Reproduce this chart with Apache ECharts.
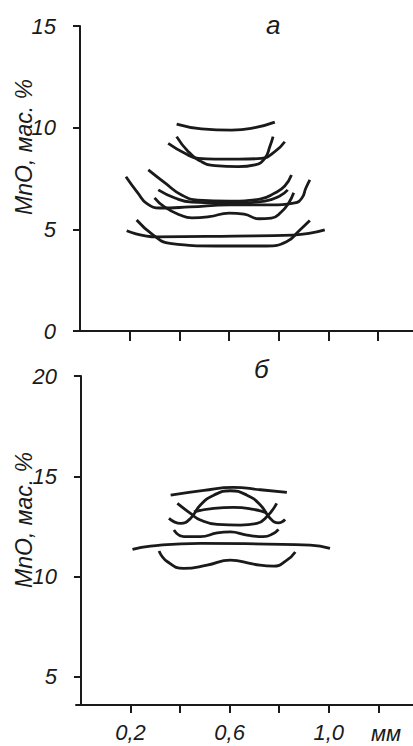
<!DOCTYPE html>
<html>
<head>
<meta charset="utf-8">
<script src="https://cdn.jsdelivr.net/npm/echarts@6/dist/echarts.min.js"></script>
<style>
  html, body { margin: 0; padding: 0; background: #fff; }
  #chart { width: 413px; height: 746px; }
</style>
</head>
<body>
<div id="chart"></div>
<script>
// ось X, мм
const xTicks = [0.2, 0.4, 0.6, 0.8, 1.0, 1.2]
const xLabels = [0.2, 0.6, 1.0]
// ось Y для панелей а и б
const yTicksA = [0, 5, 10, 15]
const yTicksB = [5, 10, 15, 20]

// панель а — профили MnO
const a1 = [[0.389, 10.17], [0.489, 9.94], [0.61, 9.88], [0.704, 10.0], [0.784, 10.27]]
const a2 = [[0.355, 9.23], [0.422, 8.74], [0.476, 8.49], [0.543, 8.45], [0.64, 8.45], [0.73, 8.49], [0.784, 8.82], [0.824, 9.31]]
const a3 = [[0.389, 9.56], [0.436, 8.82], [0.489, 8.33], [0.543, 8.13], [0.637, 8.08], [0.704, 8.17], [0.744, 8.49], [0.764, 9.07], [0.777, 9.56]]
const a4 = [[0.185, 7.59], [0.234, 6.77], [0.268, 6.28], [0.322, 6.05], [0.442, 6.1], [0.603, 6.2], [0.764, 6.2], [0.864, 6.3], [0.893, 6.54], [0.909, 7.03], [0.925, 7.43]]
const a5 = [[0.275, 7.92], [0.342, 7.28], [0.409, 6.69], [0.474, 6.44], [0.603, 6.39], [0.724, 6.49], [0.784, 6.79], [0.824, 7.13], [0.851, 7.67]]
const a6 = [[0.315, 6.94], [0.382, 6.54], [0.45, 6.34], [0.603, 6.29], [0.744, 6.39], [0.804, 6.64], [0.836, 6.94]]
const a7 = [[0.3, 6.55], [0.34, 6.1], [0.4, 5.72], [0.45, 5.56], [0.52, 5.62], [0.6, 5.8], [0.66, 5.75], [0.72, 5.52], [0.77, 5.55], [0.81, 5.85], [0.84, 6.3], [0.86, 6.8]]
const a8 = [[0.188, 4.93], [0.308, 4.63], [0.62, 4.67], [0.857, 4.72], [0.985, 4.97]]
const a9 = [[0.228, 5.46], [0.295, 4.72], [0.362, 4.31], [0.55, 4.18], [0.75, 4.18], [0.831, 4.39], [0.885, 4.97], [0.925, 5.43]]

// панель б
const b1 = [[0.362, 14.06], [0.496, 14.3], [0.615, 14.45], [0.724, 14.33], [0.831, 14.2]]
const b2 = [[0.355, 12.9], [0.402, 12.65], [0.442, 12.9], [0.482, 13.57], [0.536, 14.06], [0.603, 14.28], [0.67, 14.06], [0.724, 13.57], [0.764, 12.9], [0.797, 12.68], [0.824, 12.85]]
const b3 = [[0.389, 13.65], [0.442, 13.15], [0.482, 12.82], [0.55, 12.6], [0.643, 12.57], [0.71, 12.65], [0.75, 12.98], [0.79, 13.65]]
const b4 = [[0.456, 13.23], [0.536, 13.4], [0.616, 13.45], [0.697, 13.35], [0.75, 13.18]]
const b5 = [[0.375, 12.32], [0.415, 11.99], [0.482, 11.99], [0.55, 12.18], [0.603, 12.23], [0.67, 12.07], [0.737, 11.99], [0.777, 12.15], [0.797, 12.35]]
const b6 = [[0.208, 11.36], [0.28, 11.52], [0.482, 11.66], [0.75, 11.62], [0.925, 11.57], [1.005, 11.41]]
const b7 = [[0.315, 11.28], [0.349, 10.74], [0.415, 10.41], [0.509, 10.57], [0.603, 10.82], [0.697, 10.62], [0.777, 10.52], [0.831, 10.82], [0.865, 11.23]]

const curvesA = [a1, a2, a3, a4, a5, a6, a7, a8, a9]
const curvesB = [b1, b2, b3, b4, b5, b6, b7]

const ink = '#1a1a1a'
const font = 'Liberation Sans'

function lineOf(data, idx) {
  return {
    type: 'line',
    data: data,
    xAxisIndex: idx,
    yAxisIndex: idx,
    smooth: 0.5,
    showSymbol: false,
    lineStyle: { color: ink, width: 2.8 },
    silent: true
  }
}

function xAxisOf(idx, withLabels) {
  return {
    type: 'value',
    gridIndex: idx,
    min: -0.02,
    max: 1.34,
    axisLine: { show: true, lineStyle: { color: ink, width: 2 } },
    axisTick: {
      show: true,
      length: idx === 0 ? 10 : 8,
      customValues: xTicks,
      lineStyle: { color: ink, width: 2 }
    },
    axisLabel: {
      show: withLabels,
      customValues: xLabels,
      margin: 16,
      fontFamily: font,
      fontStyle: 'italic',
      fontSize: 22,
      color: ink,
      formatter: v => v.toFixed(1).replace('.', ',')
    },
    splitLine: { show: false }
  }
}

function yAxisOf(idx, min, max, ticks) {
  return {
    type: 'value',
    gridIndex: idx,
    min: min,
    max: max,
    axisLine: { show: true, lineStyle: { color: ink, width: 2 } },
    axisTick: { show: true, length: 7, customValues: ticks, lineStyle: { color: ink, width: 2 } },
    axisLabel: {
      customValues: ticks,
      margin: 19,
      fontFamily: font,
      fontStyle: 'italic',
      fontSize: 22,
      color: ink
    },
    splitLine: { show: false }
  }
}

const chart = echarts.init(document.getElementById('chart'), null, { renderer: 'svg' })

const option = {
  backgroundColor: '#fff',
  animation: false,
  title: [
    { text: 'а', left: 261, top: 7, textStyle: { fontFamily: font, fontStyle: 'italic', fontWeight: 'normal', fontSize: 26, color: ink } },
    { text: 'б', left: 249, top: 351, textStyle: { fontFamily: font, fontStyle: 'italic', fontWeight: 'normal', fontSize: 26, color: ink } }
  ],
  grid: [
    { left: 75, top: 26, right: 0, height: 305 },
    { left: 76, top: 376, right: 0, height: 329 }
  ],
  xAxis: [xAxisOf(0, false), xAxisOf(1, true)],
  yAxis: [yAxisOf(0, 0, 15, yTicksA), yAxisOf(1, 3.6, 20, yTicksB)],
  graphic: [
    {
      type: 'text', x: 24, y: 147, rotation: Math.PI / 2,
      style: { text: 'MnO, мас. %', font: 'italic 23px ' + font, fill: ink, align: 'center', verticalAlign: 'middle' }
    },
    {
      type: 'text', x: 24, y: 520, rotation: Math.PI / 2,
      style: { text: 'MnO, мас. %', font: 'italic 23px ' + font, fill: ink, align: 'center', verticalAlign: 'middle' }
    },
    {
      type: 'text', x: 386, y: 733,
      style: { text: 'мм', font: 'italic 22px ' + font, fill: ink, align: 'center', verticalAlign: 'middle' }
    }
  ],
  series: curvesA.map(c => lineOf(c, 0)).concat(curvesB.map(c => lineOf(c, 1)))
}

chart.setOption(option)
</script>
</body>
</html>
